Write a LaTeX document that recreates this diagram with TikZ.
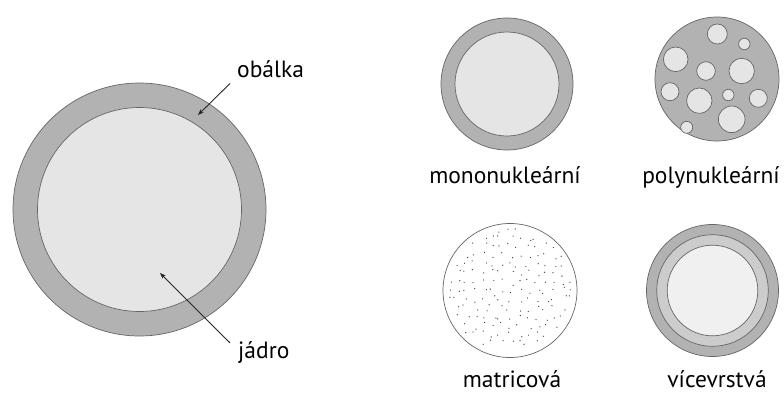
\documentclass[tikz,border=0pt]{standalone}
\usepackage{fontspec}
\setmainfont{PT Sans}
\usetikzlibrary{arrows.meta,calc}
\definecolor{shellgray}{gray}{0.70}
\definecolor{midgray}{gray}{0.80}
\definecolor{coregray}{gray}{0.90}
\definecolor{innergray}{gray}{0.94}
\definecolor{linegray}{gray}{0.40}
\begin{document}
\begin{tikzpicture}[x=1pt,y=-1pt,
  shell/.style={circle,draw=linegray,line width=0.7pt,fill=shellgray,inner sep=0pt},
  core/.style={circle,draw=linegray,line width=0.7pt,fill=coregray,inner sep=0pt},
  lbl/.style={font=\fontsize{23.5}{28}\selectfont,text=black,inner sep=0pt},
  pointer/.style={draw=black!85,line width=0.9pt,-{Stealth[length=6pt,width=4.5pt]}},
  dot/.style={fill=black!75,draw=none}]
\useasboundingbox (0,0) rectangle (784,394);
% big capsule
\node[shell,minimum size=253pt] (bigshell) at (139.5,209.5) {};
\node[core,minimum size=204pt] (bigcore) at (139.5,209.5) {};
\node[lbl,anchor=base west] (obalka) at (237,77) {obálka};
\node[lbl,anchor=base west] (jadro) at (238,358) {jádro};
\coordinate (obtip) at (198,115);
\coordinate (jtip) at (160,273);
\draw[pointer] ([xshift=-7pt,yshift=-6pt]obalka.south west) -- (obtip);
\draw[pointer] ([xshift=-8pt,yshift=-2pt]jadro.north west) -- (jtip);
% mononuclear
\node[shell,minimum size=132pt] (monoshell) at (507,84) {};
\node[core,minimum size=104pt] (monocore) at (507,84) {};
\node[lbl,anchor=base] (monolbl) at (505,183) {mononukleární};
% polynuclear
\node[shell,minimum size=124pt] (polyshell) at (717,79) {};
\foreach \x/\y/\r [count=\i] in {717.3/34/10, 744.3/44/5.7, 675.7/59.3/12.3, 706/71/9.3,
  741.7/71/12.7, 670/91.7/9, 699.3/100.7/12.7, 728.3/95/5.7, 758.3/98.3/9,
  731.7/119.3/13.3, 686.7/127.3/6}
  \node[core,minimum size=2*\r pt] (polycore\i) at (\x,\y) {};
\node[lbl,anchor=base] (polylbl) at (711,183) {polynukleární};
% matrix
\node[circle,draw=linegray,line width=0.7pt,fill=white,inner sep=0pt,minimum size=134pt] (matrix) at (510,290.5) {};
\pgfmathsetseed{4711}
\foreach \i in {-7,...,7}{\foreach \j in {-7,...,7}{
  \pgfmathsetmacro\dx{\i*8.8+3.6*rand}
  \pgfmathsetmacro\dy{\j*8.8+3.6*rand}
  \pgfmathtruncatemacro\inside{(\dx*\dx+\dy*\dy)<3850 ? 1 : 0}
  \ifnum\inside=1 \fill[dot] ($(matrix.center)+(\dx,\dy)$) circle (0.65pt); \fi
}}
\node[lbl,anchor=base] (matlbl) at (512,387) {matricová};
% multilayer
\node[shell,minimum size=132pt] (multi1) at (712.5,290.5) {};
\node[circle,draw=linegray,line width=0.7pt,fill=midgray,inner sep=0pt,minimum size=111.6pt] (multi2) at (712.5,290.5) {};
\node[circle,draw=linegray,line width=0.7pt,fill=innergray,inner sep=0pt,minimum size=90.6pt] (multi3) at (712.5,290.5) {};
\node[lbl,anchor=base] (multilbl) at (717,387) {vícevrstvá};
\end{tikzpicture}
\end{document}
